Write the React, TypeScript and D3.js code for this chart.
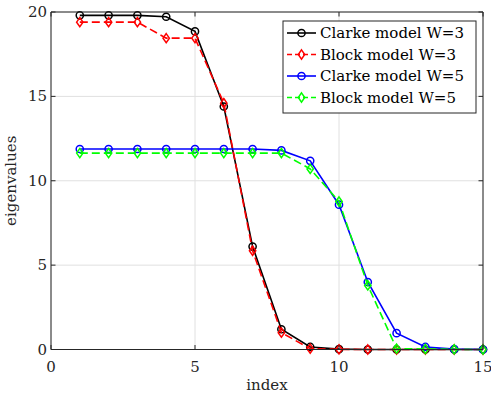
import React from "react";
import * as d3 from "d3";

const indices = [1, 2, 3, 4, 5, 6, 7, 8, 9, 10, 11, 12, 13, 14, 15];
const clarkeW3 = [19.8, 19.8, 19.8, 19.72, 18.85, 14.4, 6.1, 1.2, 0.15, 0.02, 0, 0, 0, 0, 0];
const blockW3 = [19.4, 19.4, 19.4, 18.45, 18.45, 14.6, 5.85, 1.0, 0.05, 0.01, 0, 0, 0, 0, 0];
const clarkeW5 = [11.88, 11.88, 11.88, 11.88, 11.88, 11.88, 11.88, 11.8, 11.18, 8.58, 4.0, 0.97, 0.15, 0.02, 0];
const blockW5 = [11.64, 11.64, 11.64, 11.64, 11.64, 11.64, 11.64, 11.64, 10.7, 8.77, 3.8, 0.05, 0.03, 0.01, 0];
const xTicks = [0, 5, 10, 15];
const yTicks = [0, 5, 10, 15, 20];

const seriesList = [
  { name: "Clarke model W=3", values: clarkeW3, color: "#000000", dash: "", marker: "circle" },
  { name: "Block model W=3", values: blockW3, color: "#ff0000", dash: "8,4", marker: "diamond" },
  { name: "Clarke model W=5", values: clarkeW5, color: "#0000ff", dash: "", marker: "circle" },
  { name: "Block model W=5", values: blockW5, color: "#00ff00", dash: "8,4", marker: "diamond" },
];

const W = 491, H = 395;
const L = 51, R = 483, T = 12, B = 349.5;
const font = "'DejaVu Serif', serif";

function Marker({ type, x, y, color }: { type: string; x: number; y: number; color: string }) {
  if (type === "circle") {
    return <circle cx={x} cy={y} r={3.6} fill="none" stroke={color} strokeWidth={1.5} />;
  }
  const s = 4.6, w = 3.2;
  return (
    <path
      d={`M${x},${y - s}L${x + w},${y}L${x},${y + s}L${x - w},${y}Z`}
      fill="none"
      stroke={color}
      strokeWidth={1.5}
    />
  );
}

export default function App() {
  const x = d3.scaleLinear().domain([0, 15]).range([L, R]);
  const y = d3.scaleLinear().domain([0, 20]).range([B, T]);
  const line = d3.line<[number, number]>().x((d) => x(d[0])).y((d) => y(d[1]));

  const legendX = 283, legendY = 21, legendW = 193, legendH = 92;
  const rowH = 21.5;

  return (
    <svg width={W} height={H} style={{ position: "absolute", left: 0, top: 0, background: "#fff" }}>
      <rect x={0} y={0} width={W} height={H} fill="#fff" />
      {/* grid */}
      {xTicks.map((t) => (
        <line key={"gx" + t} x1={x(t)} x2={x(t)} y1={T} y2={B} stroke="#e0e0e0" strokeWidth={1} />
      ))}
      {yTicks.map((t) => (
        <line key={"gy" + t} x1={L} x2={R} y1={y(t)} y2={y(t)} stroke="#e0e0e0" strokeWidth={1} />
      ))}
      {/* series */}
      {seriesList.map((s) => {
        const pts: [number, number][] = indices.map((i, k) => [i, s.values[k]]);
        return (
          <g key={s.name}>
            <path d={line(pts) || ""} fill="none" stroke={s.color} strokeWidth={1.6} strokeDasharray={s.dash} />
            {pts.map((p, k) => (
              <Marker key={k} type={s.marker} x={x(p[0])} y={y(p[1])} color={s.color} />
            ))}
          </g>
        );
      })}
      {/* axes box */}
      <line x1={L} x2={R} y1={T} y2={T} stroke="#262626" strokeWidth={1} />
      <line x1={R} x2={R} y1={T} y2={B} stroke="#262626" strokeWidth={1} />
      <line x1={L} x2={R} y1={B} y2={B} stroke="#262626" strokeWidth={1} />
      <line x1={L} x2={L} y1={T} y2={B} stroke="#262626" strokeWidth={1} />
      {xTicks.map((t) => (
        <g key={"tx" + t}>
          <line x1={x(t)} x2={x(t)} y1={B} y2={B - 4.5} stroke="#262626" />
          <line x1={x(t)} x2={x(t)} y1={T} y2={T + 4.5} stroke="#262626" />
          <text x={x(t)} y={B + 22} textAnchor="middle" fontFamily={font} fontSize={15} fill="#262626">
            {t}
          </text>
        </g>
      ))}
      {yTicks.map((t) => (
        <g key={"ty" + t}>
          <line x1={L} x2={L + 4.5} y1={y(t)} y2={y(t)} stroke="#262626" />
          <line x1={R} x2={R - 4.5} y1={y(t)} y2={y(t)} stroke="#262626" />
          <text x={L - 4} y={y(t) + 5} textAnchor="end" fontFamily={font} fontSize={15} fill="#262626">
            {t}
          </text>
        </g>
      ))}
      <text x={(L + R) / 2} y={390} textAnchor="middle" fontFamily={font} fontSize={15} fill="#262626">
        index
      </text>
      <text
        transform={`translate(16,${(T + B) / 2}) rotate(-90)`}
        textAnchor="middle"
        fontFamily={font}
        fontSize={15}
        fill="#262626"
      >
        eigenvalues
      </text>
      {/* legend */}
      <rect x={legendX} y={legendY} width={legendW} height={legendH} fill="#fff" stroke="#262626" strokeWidth={1} />
      {seriesList.map((s, k) => {
        const cy = legendY + 12 + k * rowH;
        return (
          <g key={"lg" + k}>
            <line x1={287} x2={316} y1={cy} y2={cy} stroke={s.color} strokeWidth={1.6} strokeDasharray={s.dash ? "5,3" : ""} />
            <Marker type={s.marker} x={301.5} y={cy} color={s.color} />
            <text x={320} y={cy + 5} fontFamily={font} fontSize={15} fill="#000">
              {s.name}
            </text>
          </g>
        );
      })}
    </svg>
  );
}
